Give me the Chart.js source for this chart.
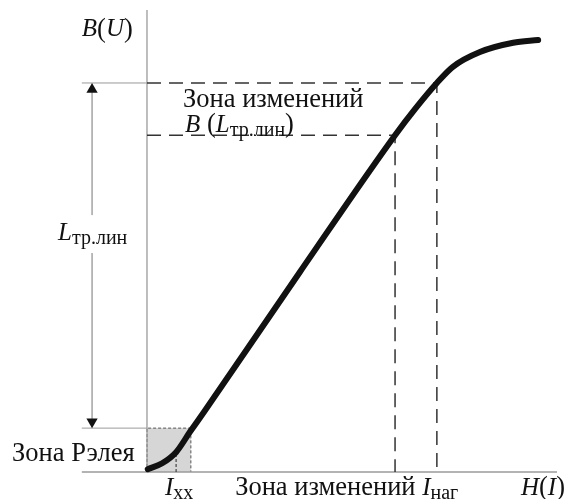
<!DOCTYPE html>
<html>
<head>
<meta charset="utf-8">
<script src="https://cdn.jsdelivr.net/npm/chart.js@4/dist/chart.umd.min.js"></script>
<style>
  body { margin: 0; background: #fff; }
</style>
</head>
<body>
<canvas id="grafica" width="570" height="499"></canvas>
<script>
// кривая намагничивания B(H), единицы условные (0..10 по обеим осям)
var curveH = [0.02, 0.37, 0.71, 1.05, 1.39, 3.73, 6.05, 6.54, 7.07, 7.46, 8.12, 8.93, 9.54];
var curveB = [0.06, 0.19, 0.43, 0.87, 1.30, 4.33, 7.29, 7.86, 8.42, 8.77, 9.09, 9.29, 9.35];

// характерные уровни
var bUpper = 8.42;   // верх зоны изменений
var bLower = 7.29;   // B(L тр.лин)
var hUpper = 7.07;   // I наг
var hLower = 6.05;
var rayleighH = 1.07; // зона Рэлея
var rayleighB = 0.95;
var ixx = 0.71;
var arrowH = -1.34;
var leftEdge = -1.59;

var tekstos = [
  { x: -1.59, y: 9.57, runs: [['B', 'i'], ['(', ''], ['U', 'i'], [')', '']] },
  { x: -2.17, y: 5.17, runs: [['L', 'i'], ['тр.лин', 's']] },
  { x: 0.88, y: 8.05, runs: [['Зона изменений', '']] },
  { x: 0.93, y: 7.51, runs: [['B', 'i'], [' (', ''], ['L', 'i'], ['тр.лин', 's'], [')', '']] },
  { x: -3.29, y: 0.39, runs: [['Зона Рэлея', '']] },
  { x: 0.44, y: -0.35, runs: [['I', 'i'], ['xx', 's']] },
  { x: 2.15, y: -0.35, runs: [['Зона изменений ', ''], ['I', 'i'], ['наг', 's']] },
  { x: 9.12, y: -0.35, runs: [['H', 'i'], ['(', ''], ['I', 'i'], [')', '']] }
];

function puntos(xs, ys) {
  var r = [];
  for (var i = 0; i < xs.length; i++) r.push({ x: xs[i], y: ys[i] });
  return r;
}

function linea(pts, color, width, dash, order) {
  return {
    data: pts,
    showLine: true,
    borderColor: color,
    borderWidth: width,
    borderDash: dash || [],
    pointRadius: 0,
    clip: false,
    order: order
  };
}

var textPlugin = {
  id: 'textos',
  afterDatasetsDraw: function (chart) {
    var ctx = chart.ctx;
    var sx = chart.scales.x, sy = chart.scales.y;
    ctx.save();
    ctx.fillStyle = '#111';
    ctx.textBaseline = 'middle';
    ctx.textAlign = 'left';
    tekstos.forEach(function (t) {
      var px = sx.getPixelForValue(t.x);
      var py = sy.getPixelForValue(t.y);
      t.runs.forEach(function (r) {
        var dy = 0;
        if (r[1] == 'i') ctx.font = 'italic 25px "Liberation Serif"';
        else if (r[1] == 's') { ctx.font = '20px "Liberation Serif"'; dy = 6; }
        else ctx.font = '26.5px "Liberation Serif"';
        ctx.fillText(r[0], px, py + dy);
        px += ctx.measureText(r[0]).width;
      });
    });
    ctx.restore();
  }
};

var datasets = [
  // кривая
  {
    data: puntos(curveH, curveB),
    showLine: true,
    borderColor: '#111',
    borderWidth: 6,
    borderCapStyle: 'round',
    cubicInterpolationMode: 'monotone',
    pointRadius: 0,
    clip: false,
    order: 0
  },
  // зона Рэлея (заливка)
  {
    data: [{ x: 0, y: 0 }, { x: 0, y: rayleighB }, { x: rayleighH, y: rayleighB }, { x: rayleighH, y: 0 }],
    showLine: true,
    fill: 'origin',
    backgroundColor: '#d6d6d6',
    borderColor: '#555',
    borderWidth: 1,
    borderDash: [3, 2],
    pointRadius: 0,
    clip: false,
    order: 9
  },
  linea([{ x: ixx, y: 0 }, { x: ixx, y: 0.5 }], '#444', 1.2, [3, 2], 5),
  // пунктир
  linea([{ x: 0, y: bUpper }, { x: hUpper, y: bUpper }, { x: hUpper, y: 0 }], '#333', 1.5, [14, 8], 3),
  linea([{ x: 0, y: bLower }, { x: hLower, y: bLower }, { x: hLower, y: 0 }], '#333', 1.5, [14, 8], 3),
  // оси
  linea([{ x: 0, y: 0 }, { x: 0, y: 10 }], '#9a9a9a', 1.3, null, 6),
  linea([{ x: leftEdge, y: 0 }, { x: 10, y: 0 }], '#9a9a9a', 1.3, null, 6),
  linea([{ x: leftEdge, y: bUpper }, { x: 0, y: bUpper }], '#9a9a9a', 1, null, 6),
  linea([{ x: leftEdge, y: rayleighB }, { x: 0, y: rayleighB }], '#9a9a9a', 1, null, 6),
  // стрелка L тр.лин
  linea([{ x: arrowH, y: rayleighB + 0.2 }, { x: arrowH, y: 4.74 }], '#777', 1, null, 6),
  linea([{ x: arrowH, y: 5.56 }, { x: arrowH, y: bUpper - 0.2 }], '#777', 1, null, 6),
  {
    data: [{ x: arrowH, y: bUpper - 0.14 }, { x: arrowH, y: rayleighB + 0.14 }],
    pointStyle: 'triangle',
    pointRadius: 6.5,
    pointRotation: [0, 180],
    backgroundColor: '#111',
    borderColor: '#111',
    borderWidth: 0,
    clip: false,
    order: 4
  }
];

var ctx = document.getElementById('grafica').getContext('2d');
window.myChart = new Chart(ctx, {
  type: 'scatter',
  data: { datasets: datasets },
  options: {
    responsive: false,
    animation: false,
    layout: { padding: 0, autoPadding: false },
    scales: {
      x: { type: 'linear', min: -3.585, max: 10.317, display: false },
      y: { type: 'linear', min: -0.584, max: 10.216, display: false }
    },
    plugins: {
      legend: { display: false },
      tooltip: { enabled: false }
    }
  },
  plugins: [textPlugin]
});
</script>
</body>
</html>
